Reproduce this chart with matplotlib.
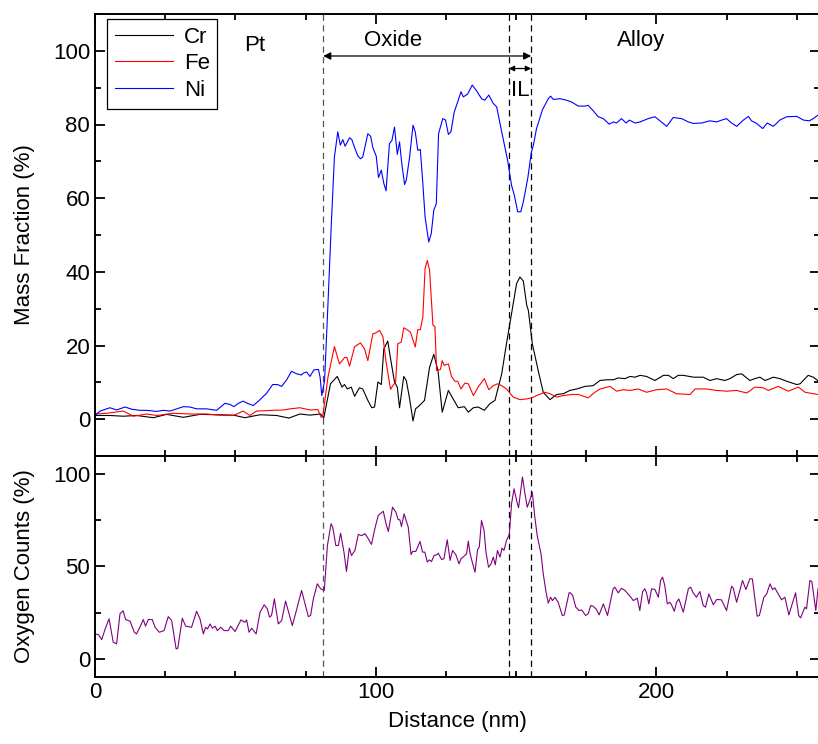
import matplotlib
matplotlib.use("Agg")
import matplotlib.pyplot as plt
from matplotlib.ticker import MultipleLocator

plt.rcParams['font.family'] = ['Liberation Sans', 'DejaVu Sans']

# ---------------- data ----------------
ni_x = [0, 1.8, 5.3, 7.7, 10.7, 13.1, 16, 18.4, 22, 24.3, 26.7, 29.1, 31.5, 33.8, 36.2, 39.8, 43.3, 46.3, 48.1,
        49.5, 51.1, 52.8, 54.3, 56.4, 58.8, 61.2, 63.3, 65, 66.5, 68.3, 70, 71.9, 73.6, 74.2, 75.4, 76.6, 78,
        79.6, 80.2, 80.8, 81.8, 83, 84.2, 85.3, 86.5, 87.4, 88.3, 89.1, 90.7, 91.5, 92.5, 93.7, 94.6, 95.4,
        97.2, 98.2, 99, 100.2, 101, 102, 102.9, 103.7, 104.9, 105.8, 106.7, 107.7, 108.5, 109.3, 110.3, 110.9,
        112.1, 113.3, 114.1, 115, 115.9, 116.8, 117.6, 118.9, 119.8, 120.7, 121.6, 122.4, 123.9, 124.9, 125.9,
        126.8, 128, 129.2, 130.4, 131.2, 132.7, 134.4, 136, 137.7, 138.9, 140.3, 141.9, 143.1, 144.9, 147,
        148.4, 149.4, 150.6, 151.7, 152.6, 154.2, 155.5, 156.2, 157.3, 157.9, 159.4, 161.5, 162.3, 163.3,
        165.7, 168, 169.8, 172.2, 174.6, 175.7, 177.3, 179.3, 181.1, 183.2, 184.7, 185.8, 187.6, 189.2, 190.4,
        192.4, 194.2, 197.1, 199.5, 201.3, 203.7, 206, 209, 211.4, 213.2, 216.1, 219.1, 221.5, 223.3, 225,
        226.8, 228.6, 231, 232.8, 233.9, 235.7, 237.9, 239.5, 241.7, 244, 246.4, 250, 252.4, 254.5, 255.9,
        257.5, 258.5]
ni_y = [1, 2.2, 3.1, 2.5, 3.3, 2.7, 2.4, 2.4, 2.1, 2.4, 2.2, 2.8, 3.4, 3.3, 2.8, 2.8, 2.4, 4.3, 4.0,
        3.4, 4.3, 4.9, 4.3, 3.7, 5.3, 7.1, 9.4, 9.4, 8.9, 10.7, 13, 12.3, 12, 12.5, 12.8, 11.6, 13.4,
        13.5, 11.4, 6.4, 10.5, 31.3, 53.1, 71.2, 78, 74.4, 75.9, 74.1, 76.4, 75.9, 73.7, 71.4, 70.7, 71.2,
        77.5, 76.8, 73.7, 71.4, 65.6, 67.6, 64, 62, 74.8, 75.7, 79.3, 71.9, 75.3, 69.4, 63.7, 64.9,
        71.2, 79.8, 78, 73, 73.2, 64, 54.9, 48.1, 50.4, 56.7, 58.5, 77.5, 81.6, 81.2, 77.3,
        78, 83.4, 86.1, 88.9, 87.5, 88.2, 90.7, 89.1, 87, 86.6, 88, 85.7, 84.8, 78, 70.3,
        63.5, 60.8, 56.3, 56.3, 59, 65.5, 72.6, 74.4, 78.9, 80.3, 84, 87, 87.7, 86.8,
        87, 86.6, 86.1, 85, 85, 85.2, 83.9, 82.1, 81.6, 80.1, 80.7, 80.4, 81.6, 80.4, 81.2,
        80.4, 80.7, 81.6, 82.1, 81, 79.5, 81.9, 81.6, 80.7, 80.3, 80.4, 81, 80.7, 81.2, 81.6,
        80.4, 79.5, 81.2, 82.2, 81, 80.3, 78.9, 80.4, 79.5, 81.2, 82.1, 82.2, 81.2, 81, 81.6,
        82.5, 82.5]

fe_x = [0, 4.2, 10.1, 13.7, 18.4, 22, 27.9, 33.8, 39.8, 45.7, 49.3, 52.8, 55.2, 57.6, 63.5, 67.1, 69.5, 73,
        74.8, 76.6, 79.4, 80.6, 81.2, 83, 85.3, 87.1, 88.9, 89.7, 90.7, 92.5, 94.6, 96, 97.2, 99, 100, 101.4,
        102.6, 103.7, 105.3, 106.1, 107.1, 107.9, 109.1, 110, 111.2, 112.4, 114.1, 115, 115.9, 116.8, 117.6,
        118.4, 119.2, 120.4, 121.1, 121.7, 123.1, 123.7, 124.4, 125.9, 127, 128.2, 129.2, 130.4, 131.8, 133,
        134.8, 136.5, 138.7, 140.3, 141.9, 143.4, 144.9, 146.6, 149, 151.4, 153.8, 155.6, 157.3, 160.3, 162.1,
        164.5, 166.8, 169.8, 172.2, 175.7, 178.1, 179.9, 183.5, 185.8, 188.2, 190.6, 193.6, 196.5, 200.1,
        203.7, 207.2, 212, 213.8, 217.9, 221.5, 225, 228.6, 232.2, 235.1, 238.1, 239.9, 243.4, 247, 250.6,
        253, 257.5, 258.5]
fe_y = [1.4, 1.6, 2.2, 0.8, 1.4, 1.0, 1.6, 1.4, 1.4, 1.0, 1.0, 2.2, 1.0, 2.2, 2.4, 2.5, 2.8, 3.1,
        2.8, 2.5, 2.6, 0.5, 1.0, 11.4, 19.7, 15, 16.7, 16.8, 14.4, 19.7, 20.7, 19.1, 15.9, 23.2, 23.4, 24.1,
        22.3, 15.5, 8.1, 9.1, 10.1, 20.5, 20.9, 24.8, 24.3, 23.6, 19.6, 24.3, 24.3, 27.7, 40.9,
        43.1, 40.4, 25.5, 25.2, 13.2, 13.5, 15.9, 14.6, 15, 11.6, 10.3, 10.3, 8.2, 9.8, 9.6,
        6.4, 8.7, 11, 8, 9.1, 9.6, 9.1, 8.2, 6, 5.3, 5.5, 5.8, 6.4, 7.3, 6.9,
        6.0, 6.4, 6.7, 6.7, 5.8, 7.3, 8.2, 8.9, 7.6, 8, 7.8, 8.2, 7.3, 8,
        8.2, 6.9, 6.7, 8.2, 8.2, 7.8, 7.6, 7.8, 7.1, 8.7, 8.5, 7.8, 8.9, 7.6, 8.7,
        7.3, 6.7, 6.7]

cr_x = [0, 5.3, 10.1, 14.8, 20.8, 25.5, 31.5, 37.4, 43.3, 49.3, 53.4, 58.8, 64.7, 69.1, 73, 76.6, 80.4, 81.5,
        83.9, 86.3, 88, 88.9, 89.9, 91.3, 92.5, 94.2, 95.4, 97.2, 98.6, 99.6, 100.8, 102, 102.9, 104.3, 105.5,
        106.7, 107.7, 108.5, 110, 110.9, 112.1, 113.3, 114.2, 115.6, 117.4, 119.2, 120.7, 122.2, 123.7, 125.9,
        127.6, 129.4, 131.6, 133, 134.8, 136.5, 138.7, 140.7, 142.5, 144.9, 146.6, 148.7, 150.2, 151.4, 152.6,
        153.8, 154.4, 155.8, 157.9, 159.7, 162.1, 163.3, 164.5, 166.8, 169.2, 171.6, 174.6, 177.5, 179.9,
        182.3, 184.7, 186.4, 188.8, 190.6, 192.4, 194.2, 196.5, 199.5, 202.5, 204.3, 206, 207.8, 209.6, 213.2,
        216.7, 219.1, 221.5, 224.4, 226.2, 228.6, 230.4, 233.3, 235.1, 236.9, 238.7, 241.7, 244, 246.4, 250,
        251.2, 254.1, 255.9, 257.5, 258.5]
cr_y = [1, 1, 0.8, 1, 0.4, 1.3, 0.5, 1.3, 1.2, 1.1, 0.4, 1.2, 1.0, 0.3, 1.4, 1.1, 1.4, 0.3,
        9.6, 11.6, 8.7, 9.4, 8.2, 8.7, 6.2, 8.5, 8.2, 5.1, 3.1, 3.3, 10.1, 9.4, 19.1, 21.2, 15.5,
        10.1, 8.7, 3.1, 11.6, 10.5, 5.5, -0.5, 2.8, 3.7, 5.1, 14.1, 17.6, 13.2, 1.9, 7.8,
        5.5, 3.1, 3.4, 1.9, 3.1, 3.3, 2.4, 4.2, 5.1, 12.3, 20.5, 30, 36.8, 38.6, 37.5,
        31, 29.5, 20.5, 13.2, 7.3, 5.3, 6, 6.7, 6.9, 7.8, 8.2, 8.9, 9.1, 10.5,
        10.7, 10.7, 11.2, 11, 11.6, 11.4, 11.9, 11.6, 10.5, 11.9, 11.9, 11, 11.9, 11.9, 11.4,
        11.4, 10.5, 11, 10.5, 11, 12.1, 12.3, 10.5, 11, 11.4, 10.5, 11.4, 11, 10.3, 9.4,
        9.6, 11.9, 11.4, 10.5, 10.5]

o_x = [0, 1.2, 2.4, 3.6, 5, 6.5, 7.7, 8.9, 10, 10.9, 12.5, 14, 14.8, 16, 17.2, 18, 19, 20.4, 21.4, 22.9,
       24.6, 26.1, 27.3, 28.9, 29.5, 31.1, 32.3, 34.4, 36.2, 37.4, 38.6, 39.4, 40.1, 41, 41.8, 42.8, 43.6,
       44.8, 46, 47.5, 48.3, 49.9, 52, 53.4, 54, 54.9, 55.8, 57.4, 58.8, 60.3, 61.4, 62.2, 62.9, 63.9, 65.3,
       66.5, 67.9, 70.3, 71.9, 73.6, 76, 76.8, 77.8, 79.2, 80.4, 81.7, 82.8, 84.1, 84.7, 85.8, 86.7, 87.5,
       88.7, 89.6, 90.6, 91.4, 92.6, 93.8, 95, 96.2, 97.4, 98.5, 99.7, 100.9, 102.7, 103.7, 104.5, 106,
       107.2, 108, 108.6, 109.2, 110.1, 111.6, 112.6, 113.2, 114.3, 115.8, 116.7, 117.5, 118.4, 119.1,
       119.9, 120.8, 121.7, 122.3, 123.5, 124.3, 125.5, 126.5, 127.4, 128.6, 129.7, 130.4, 131.8, 132.4,
       133, 133.6, 134.4, 135.4, 136.3, 136.9, 137.7, 138.6, 139.3, 140.2, 141.1, 141.9, 142.6, 143.4,
       144.3, 145, 145.7, 146.6, 147.6, 148.4, 149.3, 150.2, 150.9, 152.3, 153.2, 154, 154.9, 155.8,
       156.7, 157.6, 158.9, 159.7, 160.7, 161.5, 162.3, 163, 163.9, 165, 166.5, 167.2, 168.9, 169.4,
       170.2, 171.3, 172.5, 173.4, 174.8, 175.7, 176.6, 177.5, 178.7, 179.6, 181.1, 182.6, 184.6, 185.2,
       186.4, 187.6, 188.8, 190.6, 191.8, 193.2, 194.1, 195.1, 195.9, 196.5, 197.3, 198.3, 199.5, 200.7,
       201.5, 202.2, 203, 203.9, 204.8, 205.4, 206.4, 207.2, 208, 209.6, 211.4, 212.2, 213.1, 214.3,
       215.5, 216.7, 217.5, 218.7, 220.3, 221.5, 223.2, 225, 226.8, 227.4, 228.6, 230.7, 231.9, 233.3,
       234.2, 235.9, 236.7, 238.3, 239.3, 240.5, 241.4, 242.2, 244.6, 245.8, 247.2, 249.6, 250.7, 251.4,
       252.9, 253.5, 254.7, 255.4, 256.8, 257.6]
o_y = [13.4, 13, 10.3, 16, 21.6, 8.9, 8, 24.3, 26, 21.2, 20.3, 14.3, 13.4, 17, 21.2, 17.6, 21.2, 21.2,
       17, 14.3, 15.2, 22.8, 20.7, 5.3, 5.6, 21.9, 17.6, 17, 25.7, 21.6, 13.4, 17, 16.1, 18.8, 16.5, 17.6,
       15.2, 17, 15.2, 15.2, 17.6, 14.7, 21, 19.7, 21, 14.3, 16.5, 13.4, 25.2, 29.2, 27, 22.5, 23.4, 32.4,
       18.8, 20.7, 31.2, 17.9, 27, 37, 22.8, 23.4, 32.4, 40.6, 37.9, 37, 61.4, 73.2, 71.4, 61.4, 61.4,
       68.1, 57.8, 47.3, 60, 56, 58.7, 67.4, 66.8, 67.8, 65, 62, 70.5, 77.7, 80, 73.2, 69, 82.2, 79.5,
       75.5, 75.4, 71.7, 78.6, 71.4, 56.5, 58.2, 58.2, 63.6, 57.8, 57.8, 52.4, 53.6, 52.7, 56, 56.3, 57.2,
       53.8, 54.2, 64.5, 53.3, 58.7, 56.3, 51.4, 54.2, 56, 56.9, 63.8, 57.2, 52.4, 46.9, 59.2, 60.5, 75,
       69.6, 57.8, 49.6, 51.4, 55.1, 50.9, 58.7, 55.1, 60, 58.7, 64.1, 67.4, 84, 92.2, 85.9, 81.9, 98.6,
       89.5, 82.2, 85.9, 90.4, 76.8, 66.3, 56.9, 46, 36, 30.1, 33.3, 31.5, 33.3, 30.6, 23.4, 23.7, 35.7,
       35.7, 34.2, 27.9, 26.1, 26.4, 23.4, 24.3, 28.8, 28.4, 26.6, 23.7, 29.7, 23.4, 37.9, 38.8, 35.7,
       38.2, 37, 33.9, 31.5, 32.8, 26.1, 36.4, 37.9, 35.7, 29.7, 37.9, 37.5, 33.3, 42.4, 44.2, 39.7, 29.7,
       30.6, 29.2, 25.7, 30.6, 32.4, 25.2, 37.9, 38.8, 35.7, 33.3, 36.4, 28.8, 27.9, 35.1, 29.2, 32.1,
       31.9, 26.1, 39.3, 38.2, 30.6, 42.4, 37.5, 43.3, 43.3, 23, 23.4, 33.3, 35.1, 40.6, 37.5, 38.4,
       31.9, 33.3, 23.7, 35.7, 23.4, 22.1, 27.9, 27, 42.4, 41.8, 26.1, 37.9]

boundaries = [81.3, 147.4, 155.4]
region_labels = ['Pt', 'Oxide', 'IL', 'Alloy']

# ---------------- figure ----------------
W, H = 818, 744
FS = 16
fig = plt.figure(figsize=(W / 100, H / 100), dpi=100)
left = 95 / W
width = (820 - 95) / W
ax1 = fig.add_axes([left, 1 - 456 / H, width, (456 - 14) / H])
ax2 = fig.add_axes([left, 1 - 677 / H, width, (677 - 456) / H], sharex=ax1)

lw = 0.8
ax1.plot(cr_x, cr_y, color='black', lw=lw, label='Cr')
ax1.plot(fe_x, fe_y, color='#ff0000', lw=lw, label='Fe')
ax1.plot(ni_x, ni_y, color='#0000ff', lw=lw, label='Ni')
ax2.plot(o_x, o_y, color='#800080', lw=lw)

for ax in (ax1, ax2):
    for i, b in enumerate(boundaries):
        ax.axvline(b, color='#555555' if i == 0 else 'black', lw=0.9,
                   linestyle=(0, (5, 3.5)), zorder=1)
    for s in ax.spines.values():
        s.set_linewidth(1.4)
    ax.tick_params(which='both', direction='in', top=True, right=True, labelsize=FS, width=1.3)
    ax.tick_params(which='major', length=7)
    ax.tick_params(which='minor', length=4)
    ax.xaxis.set_major_locator(MultipleLocator(100))
    ax.xaxis.set_minor_locator(MultipleLocator(25))

ax1.set_xlim(0, 258.3)
ax1.set_ylim(-10, 110)
ax1.yaxis.set_major_locator(MultipleLocator(20))
ax1.yaxis.set_minor_locator(MultipleLocator(10))
ax1.tick_params(labelbottom=False)

ax2.set_ylim(-10, 110)
ax2.yaxis.set_major_locator(MultipleLocator(50))
ax2.yaxis.set_minor_locator(MultipleLocator(25))

ax1.set_ylabel('Mass Fraction (%)', fontsize=FS)
ax2.set_ylabel('Oxygen Counts (%)', fontsize=FS)
ax2.set_xlabel('Distance (nm)', fontsize=FS, labelpad=6)
ax1.yaxis.set_label_coords(-0.083, 0.5)
ax2.yaxis.set_label_coords(-0.083, 0.5)

# region annotations
arrow_kw = dict(arrowstyle='<|-|>', color='black', lw=0.9, mutation_scale=11, shrinkA=0, shrinkB=0)
ax1.annotate('', xy=(boundaries[0], 98.6), xytext=(boundaries[2], 98.6), arrowprops=arrow_kw)
ax1.annotate('', xy=(boundaries[1], 95.2), xytext=(boundaries[2], 95.2),
             arrowprops=dict(arrow_kw, mutation_scale=8))
ax1.text(57, 101.5, region_labels[0], fontsize=FS, ha='center', va='center')
ax1.text(106.2, 102.9, region_labels[1], fontsize=FS, ha='center', va='center')
ax1.text(151.6, 89.3, region_labels[2], fontsize=FS, ha='center', va='center')
ax1.text(194.5, 102.9, region_labels[3], fontsize=FS, ha='center', va='center')

leg = ax1.legend(loc='upper left', bbox_to_anchor=(0.0165, 0.989), borderaxespad=0,
                 fontsize=FS, frameon=True, fancybox=False, framealpha=1, edgecolor='black',
                 handlelength=2.6, handletextpad=0.5, labelspacing=0.25, borderpad=0.35)
leg.get_frame().set_linewidth(0.9)

fig.savefig('out.png', dpi=100)
